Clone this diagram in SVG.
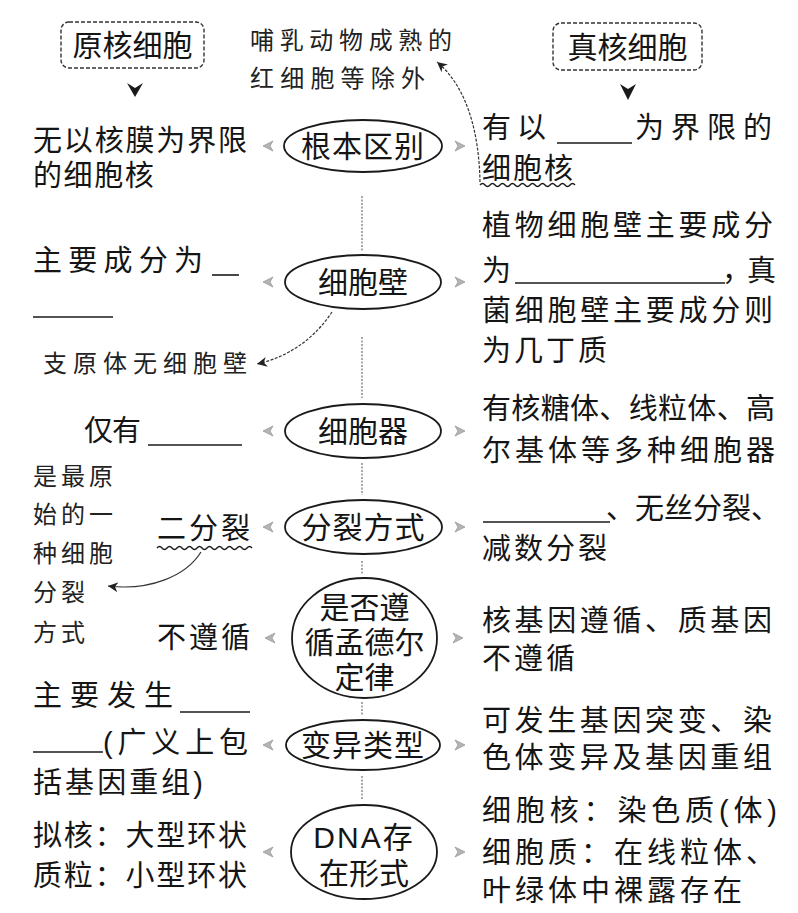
<svg xmlns="http://www.w3.org/2000/svg" width="798" height="913" viewBox="0 0 798 913">
<style>
text{font-family:"Liberation Sans","Noto Sans CJK SC",sans-serif;fill:#151515;}
.m{font-size:29px;}
.c{font-size:30px;text-anchor:middle;}
.h{font-size:24px;fill:#222;}
.ell{fill:none;stroke:#1a1a1a;stroke-width:1.8;}
.box{fill:none;stroke:#333;stroke-width:1.4;stroke-dasharray:4 2;}
.blank{stroke:#1a1a1a;stroke-width:1.6;}
.wave{fill:none;stroke:#1a1a1a;stroke-width:1.4;}
.vl{stroke:#8a8a8a;stroke-width:1.5;stroke-dasharray:2 1.5;}
.ah{fill:#b5b5b5;stroke:#999;stroke-width:0.8;}
.cur{fill:none;stroke:#333;stroke-width:1.2;}
</style>
<defs>
<marker id="open" viewBox="0 0 12 12" refX="10" refY="6" markerWidth="12" markerHeight="12" markerUnits="userSpaceOnUse" orient="auto">
<path d="M0,1 L10,6 L0,11 L3,6 Z" fill="#222"/>
</marker>
<path id="ar" d="M0,0 L10,-5 L7,0 L10,5 Z"/>
</defs>

<!-- headers -->
<g id="prokaryote">
<rect class="box" x="61" y="22" width="143" height="46" rx="8"/>
<text class="c" x="132.5" y="56">原核细胞</text>
<path d="M127,83 L135,88 L143,83 L135,97 Z" fill="#1a1a1a"/>
</g>
<g id="eukaryote">
<rect class="box" x="553" y="23" width="149" height="47" rx="8"/>
<text class="c" x="627.5" y="58">真核细胞</text>
<path d="M620,84 L628,89 L636,84 L628,100 Z" fill="#1a1a1a"/>
</g>

<!-- connectors -->
<g id="connectors">
<line class="vl" x1="362" y1="196" x2="362" y2="252"/>
<line class="vl" x1="362" y1="337" x2="362" y2="398"/>
<line class="vl" x1="362" y1="463" x2="362" y2="495"/>
<line class="vl" x1="362" y1="561" x2="362" y2="575"/>
<line class="vl" x1="362" y1="702" x2="362" y2="716"/>
<line class="vl" x1="362" y1="776" x2="362" y2="800"/>
<g class="ah">
<use href="#ar" x="263" y="146"/><use href="#ar" x="263" y="282"/><use href="#ar" x="263" y="431"/><use href="#ar" x="263" y="527"/><use href="#ar" x="265" y="638"/><use href="#ar" x="263" y="745"/><use href="#ar" x="263" y="852"/>
<use href="#ar" transform="translate(465,146) scale(-1,1)"/><use href="#ar" transform="translate(465,282) scale(-1,1)"/><use href="#ar" transform="translate(465,431) scale(-1,1)"/><use href="#ar" transform="translate(465,527) scale(-1,1)"/><use href="#ar" transform="translate(463,638) scale(-1,1)"/><use href="#ar" transform="translate(465,745) scale(-1,1)"/><use href="#ar" transform="translate(465,852) scale(-1,1)"/>
</g>
<path class="cur" d="M480,182 C479,130 466,86 437,62" stroke-dasharray="3 1.5" marker-end="url(#open)"/>
<path class="cur" d="M332,312 C316,336 292,356 257,364" stroke-dasharray="3 1.5" marker-end="url(#open)"/>
<path class="cur" d="M201,552 C186,576 150,591 108,586" marker-end="url(#open)"/>
</g>

<!-- central nodes -->
<g id="n-basic"><ellipse class="ell" cx="363" cy="146" rx="79" ry="26"/><text class="c" x="363" y="157" letter-spacing="1">根本区别</text></g>
<g id="n-wall"><ellipse class="ell" cx="363" cy="282" rx="78" ry="27"/><text class="c" x="363" y="293">细胞壁</text></g>
<g id="n-organelle"><ellipse class="ell" cx="363" cy="431" rx="78" ry="27"/><text class="c" x="363" y="442">细胞器</text></g>
<g id="n-division"><ellipse class="ell" cx="363.5" cy="527" rx="78.5" ry="27"/><text class="c" x="363.5" y="538" letter-spacing="1">分裂方式</text></g>
<g id="n-mendel"><ellipse class="ell" cx="364.5" cy="638" rx="72.5" ry="60"/><text class="c" x="364.5" y="618">是否遵<tspan x="364.5" dy="35">循孟德尔</tspan><tspan x="364.5" dy="35">定律</tspan></text></g>
<g id="n-variation"><ellipse class="ell" cx="363" cy="745" rx="77" ry="25"/><text class="c" x="363" y="756" letter-spacing="1">变异类型</text></g>
<g id="n-dna"><ellipse class="ell" cx="364" cy="852" rx="73" ry="47"/><text class="c" x="364" y="848"><tspan letter-spacing="2">DNA存</tspan><tspan x="364" dy="36">在形式</tspan></text></g>

<!-- annotations -->
<g id="note-rbc">
<text class="h" x="250" y="49" textLength="202" lengthAdjust="spacing">哺乳动物成熟的</text>
<text class="h" x="250" y="87" textLength="175" lengthAdjust="spacing">红细胞等除外</text>
</g>
<g id="note-mycoplasma"><text class="h" x="43" y="372" textLength="204" lengthAdjust="spacing">支原体无细胞壁</text></g>
<g id="note-binary">
<text class="h" x="33" y="485" letter-spacing="4">是最原</text>
<text class="h" x="33" y="523" letter-spacing="4">始的一</text>
<text class="h" x="33" y="562" letter-spacing="4">种细胞</text>
<text class="h" x="33" y="601" letter-spacing="4">分裂</text>
<text class="h" x="33" y="641" letter-spacing="4">方式</text>
</g>

<!-- left column -->
<g id="p-basic">
<text class="m" x="33" y="151" textLength="214" lengthAdjust="spacing">无以核膜为界限</text>
<text class="m" x="33" y="186" letter-spacing="1.6">的细胞核</text>
</g>
<g id="p-wall">
<text class="m" x="33" y="271" textLength="170" lengthAdjust="spacing">主要成分为</text>
<line class="blank" x1="212" y1="275" x2="239" y2="275"/>
<line class="blank" x1="33" y1="317" x2="113" y2="317"/>
</g>
<g id="p-organelle">
<text class="m" x="84" y="441" letter-spacing="-1">仅有</text>
<line class="blank" x1="148" y1="445" x2="242" y2="445"/>
</g>
<g id="p-division">
<text class="m" x="157" y="539" textLength="93" lengthAdjust="spacing">二分裂</text>
<path class="wave" d="M157,548 q2.5,-3 5,0 t5,0 t5,0 t5,0 t5,0 t5,0 t5,0 t5,0 t5,0 t5,0 t5,0 t5,0 t5,0 t5,0 t5,0 t5,0 t5,0 t5,0 t5,0"/>
</g>
<g id="p-mendel"><text class="m" x="157" y="648" textLength="93" lengthAdjust="spacing">不遵循</text></g>
<g id="p-variation">
<text class="m" x="33" y="706" textLength="140" lengthAdjust="spacing">主要发生</text>
<line class="blank" x1="180" y1="712" x2="250" y2="712"/>
<line class="blank" x1="33" y1="752" x2="103" y2="752"/>
<text class="m" x="103" y="753" textLength="145" lengthAdjust="spacing">(广义上包</text>
<text class="m" x="33" y="793" textLength="170" lengthAdjust="spacing">括基因重组)</text>
</g>
<g id="p-dna">
<text class="m" x="33" y="846" textLength="214" lengthAdjust="spacing">拟核：大型环状</text>
<text class="m" x="33" y="886" textLength="214" lengthAdjust="spacing">质粒：小型环状</text>
</g>

<!-- right column -->
<g id="e-basic">
<text class="m" x="482" y="138" letter-spacing="6">有以</text>
<line class="blank" x1="557" y1="143" x2="632" y2="143"/>
<text class="m" x="635" y="138" textLength="137" lengthAdjust="spacing">为界限的</text>
<text class="m" x="482" y="179" letter-spacing="2">细胞核</text>
<path class="wave" d="M480,185 q2.5,-3 5,0 t5,0 t5,0 t5,0 t5,0 t5,0 t5,0 t5,0 t5,0 t5,0 t5,0 t5,0 t5,0 t5,0 t5,0 t5,0 t5,0 t5,0 t5,0"/>
</g>
<g id="e-wall">
<text class="m" x="482" y="236" textLength="291" lengthAdjust="spacing">植物细胞壁主要成分</text>
<text class="m" x="482" y="281">为</text>
<line class="blank" x1="515" y1="283" x2="725" y2="283"/>
<text class="m" x="722" y="281" letter-spacing="-4">，真</text>
<text class="m" x="482" y="321" textLength="291" lengthAdjust="spacing">菌细胞壁主要成分则</text>
<text class="m" x="482" y="361" letter-spacing="3">为几丁质</text>
</g>
<g id="e-organelle">
<text class="m" x="482" y="419" textLength="293" lengthAdjust="spacing">有核糖体、线粒体、高</text>
<text class="m" x="482" y="461" textLength="293" lengthAdjust="spacing">尔基体等多种细胞器</text>
</g>
<g id="e-division">
<line class="blank" x1="483" y1="522" x2="610" y2="522"/>
<text class="m" x="606" y="519" textLength="174" lengthAdjust="spacing">、无丝分裂、</text>
<text class="m" x="482" y="559" letter-spacing="3">减数分裂</text>
</g>
<g id="e-mendel">
<text class="m" x="482" y="631" textLength="290" lengthAdjust="spacing">核基因遵循、质基因</text>
<text class="m" x="482" y="669" letter-spacing="3">不遵循</text>
</g>
<g id="e-variation">
<text class="m" x="482" y="731" textLength="290" lengthAdjust="spacing">可发生基因突变、染</text>
<text class="m" x="482" y="768" textLength="290" lengthAdjust="spacing">色体变异及基因重组</text>
</g>
<g id="e-dna">
<text class="m" x="482" y="821" textLength="295" lengthAdjust="spacing">细胞核：染色质(体)</text>
<text class="m" x="482" y="863" textLength="293" lengthAdjust="spacing">细胞质：在线粒体、</text>
<text class="m" x="482" y="901" textLength="260" lengthAdjust="spacing">叶绿体中裸露存在</text>
</g>
</svg>
